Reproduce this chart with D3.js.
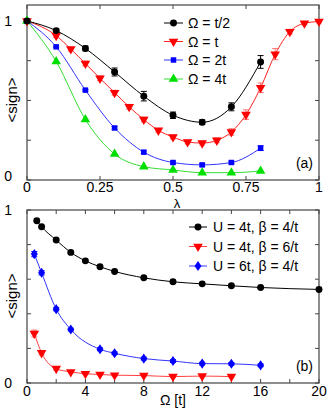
<!DOCTYPE html>
<html><head><meta charset="utf-8">
<script src="https://cdn.jsdelivr.net/npm/d3@7"></script>
<style>
html,body{margin:0;padding:0;background:#fff;}
svg{display:block;font-family:"Liberation Sans",Arial,Helvetica,sans-serif;}
</style></head>
<body>
<svg id="c" width="332" height="417"></svg>
<script>
// ---- Panel (a) data ----
const lambdaA = [0, 0.1, 0.2, 0.3, 0.4, 0.5, 0.6, 0.7, 0.8];
const lambdaRed = [0, 0.1, 0.15, 0.2, 0.25, 0.3, 0.35, 0.4, 0.45, 0.5, 0.55, 0.6, 0.65, 0.7, 0.75, 0.8, 0.85, 0.9, 0.95, 1.0];
const signHalf = [1, 0.939, 0.827, 0.679, 0.527, 0.407, 0.363, 0.46, 0.742];
const errHalf  = [0, 0.01, 0.015, 0.025, 0.03, 0.02, 0.015, 0.025, 0.04];
const signOne  = [1, 0.907, 0.823, 0.732, 0.639, 0.549, 0.46, 0.38, 0.312, 0.27, 0.239, 0.232, 0.249, 0.302, 0.411, 0.58, 0.791, 0.932, 0.985, 0.996];
const errOne   = [0, 0.012, 0.012, 0.015, 0.015, 0.015, 0.015, 0.015, 0.012, 0.012, 0.012, 0.012, 0.015, 0.02, 0.03, 0.03, 0.035, 0.015, 0.01, 0.008];
const signTwo  = [1, 0.837, 0.565, 0.327, 0.175, 0.11, 0.095, 0.11, 0.2];
const errTwo   = [0, 0.005, 0.005, 0.008, 0.008, 0.008, 0.008, 0.008, 0.015];
const signFour = [1, 0.745, 0.38, 0.163, 0.084, 0.063, 0.046, 0.046, 0.057];
const labelsA  = ["Ω = t/2", "Ω = t", "Ω = 2t", "Ω = 4t"];
const xTicksA  = [0, 0.25, 0.5, 0.75, 1];
const xTickLabelsA = ["0", "0.25", "0.5", "0.75", "1"];
const yTicksA  = [0, 0.25, 0.5, 0.75, 1];

// ---- Panel (b) data ----
const omegaBlack = [0.67, 1, 2, 3, 4, 5, 6, 8, 10, 12, 14, 16, 20];
const signU4b4   = [0.938, 0.903, 0.826, 0.755, 0.706, 0.672, 0.645, 0.608, 0.585, 0.573, 0.562, 0.552, 0.541];
const omegaRed   = [0.5, 1, 2, 3, 4, 5, 6, 8, 10, 12, 14];
const signU4b6   = [0.286, 0.174, 0.083, 0.064, 0.054, 0.049, 0.045, 0.043, 0.037, 0.04, 0.037];
const errU4b6    = [0.02, 0.012, 0.008, 0.005, 0.005, 0.005, 0.005, 0.005, 0.005, 0.005, 0.005];
const omegaBlue  = [0.5, 1, 2, 3, 5, 6, 8, 10, 12, 14, 16];
const signU6b4   = [0.745, 0.637, 0.427, 0.309, 0.195, 0.172, 0.141, 0.127, 0.112, 0.111, 0.102];
const errU6b4    = [0.015, 0.012, 0.01, 0.008, 0.008, 0.008, 0.008, 0.008, 0.008, 0.008, 0.008];
const labelsB    = ["U = 4t, β = 4/t", "U = 4t, β = 6/t", "U = 6t, β = 4/t"];
const xTicksB    = [0, 2, 4, 6, 8, 10, 12, 14, 16, 18, 20];
const xTickLabelsB = [0, 4, 8, 12, 16, 20];
const yTicksB    = [0, 0.2, 0.4, 0.6, 0.8, 1];

const svg = d3.select("#c");
const axisCol = "#444";
const FS = 14;

const downTri = {draw(ctx, size){ const s=Math.sqrt(size*4/Math.sqrt(3)); const h=s*Math.sqrt(3)/2; ctx.moveTo(-s/2,-h/3); ctx.lineTo(s/2,-h/3); ctx.lineTo(0,2*h/3); ctx.closePath(); }};
const upTri = {draw(ctx, size){ const s=Math.sqrt(size*4/Math.sqrt(3)); const h=s*Math.sqrt(3)/2; ctx.moveTo(-s/2,h/3); ctx.lineTo(s/2,h/3); ctx.lineTo(0,-2*h/3); ctx.closePath(); }};
const diamond = {draw(ctx, size){ const w=Math.sqrt(size)*0.55, h=Math.sqrt(size)*0.8; ctx.moveTo(0,-h); ctx.lineTo(w,0); ctx.lineTo(0,h); ctx.lineTo(-w,0); ctx.closePath(); }};

function frame(g, x, y, xt, yt){
  const [x0,x1] = x.range(), [y0,y1] = y.range();
  g.append("rect").attr("x",x0).attr("y",y1).attr("width",x1-x0).attr("height",y0-y1)
    .attr("fill","none").attr("stroke",axisCol).attr("stroke-width",1.2);
  const tl = 4;
  xt.forEach(v=>{
    const px = x(v);
    g.append("line").attr("x1",px).attr("x2",px).attr("y1",y0).attr("y2",y0-tl).attr("stroke",axisCol);
    g.append("line").attr("x1",px).attr("x2",px).attr("y1",y1).attr("y2",y1+tl).attr("stroke",axisCol);
  });
  yt.forEach(v=>{
    const py = y(v);
    g.append("line").attr("x1",x0).attr("x2",x0+tl).attr("y1",py).attr("y2",py).attr("stroke",axisCol);
    g.append("line").attr("x1",x1).attr("x2",x1-tl).attr("y1",py).attr("y2",py).attr("stroke",axisCol);
  });
}

function series(g, x, y, xs, ys, errs, color, errColor, symType, symSize, lineColor){
  const pts = xs.map((v,i)=>({x:v, y:ys[i], e: errs ? errs[i] : 0}));
  g.append("path").datum(pts)
    .attr("d", d3.line().x(d=>x(d.x)).y(d=>y(d.y)).curve(d3.curveMonotoneX))
    .attr("fill","none").attr("stroke", lineColor).attr("stroke-width",1);
  const eb = g.append("g").attr("stroke", errColor).attr("stroke-width",1);
  pts.filter(d=>d.e>0).forEach(d=>{
    const px=x(d.x), ya=y(d.y+d.e), yb=y(d.y-d.e);
    eb.append("line").attr("x1",px).attr("x2",px).attr("y1",ya).attr("y2",yb);
    eb.append("line").attr("x1",px-3).attr("x2",px+3).attr("y1",ya).attr("y2",ya);
    eb.append("line").attr("x1",px-3).attr("x2",px+3).attr("y1",yb).attr("y2",yb);
  });
  g.append("g").selectAll("path").data(pts).join("path")
    .attr("transform", d=>`translate(${x(d.x)},${y(d.y)})`)
    .attr("d", d3.symbol().type(symType).size(symSize))
    .attr("fill", color);
}

function legend(g, items, x0, x1, xm, xt, ys){
  items.forEach((it,i)=>{
    const yy = ys[i];
    g.append("line").attr("x1",x0).attr("x2",x1).attr("y1",yy).attr("y2",yy).attr("stroke",it.line).attr("stroke-width",1);
    g.append("path").attr("transform",`translate(${xm},${yy})`).attr("d", d3.symbol().type(it.sym).size(it.size)).attr("fill",it.color);
    g.append("text").attr("x",xt).attr("y",yy+5).attr("font-size",FS).attr("fill","#000").text(it.label);
  });
}

// ===== Panel (a) =====
const xA = d3.scaleLinear().domain([0,1]).range([27,319]);
const yA = d3.scaleLinear().domain([0,1.1]).range([180,5]);
const gA = svg.append("g");
frame(gA, xA, yA, xTicksA, yTicksA);
series(gA, xA, yA, lambdaA, signFour, null, "#00e000", "#00e000", upTri, 40, "#33dd33");
series(gA, xA, yA, lambdaA, signTwo, errTwo, "#0000ff", "#0000ff", d3.symbolSquare, 30, "#3333ff");
series(gA, xA, yA, lambdaRed, signOne, errOne, "#ff0000", "#ff7070", downTri, 40, "#ff2020");
series(gA, xA, yA, lambdaA, signHalf, errHalf, "#000", "#000", d3.symbolCircle, 38, "#000");
xTicksA.forEach((v,i)=>{
  gA.append("text").attr("x",xA(v)).attr("y",192).attr("text-anchor","middle").attr("font-size",FS).text(xTickLabelsA[i]);
});
gA.append("text").attr("x",12).attr("y",yA(0)+1).attr("text-anchor","end").attr("font-size",FS).text("0");
gA.append("text").attr("x",12).attr("y",yA(1)+5).attr("text-anchor","end").attr("font-size",FS).text("1");
gA.append("text").attr("x",177).attr("y",208).attr("text-anchor","middle").attr("font-size",13).text("λ");
gA.append("text").attr("transform","translate(17,100) rotate(-90)").attr("text-anchor","middle").attr("font-size",15).text("<sign>");
gA.append("text").attr("x",313).attr("y",168).attr("text-anchor","end").attr("font-size",FS).text("(a)");
legend(gA, [
  {label:labelsA[0], color:"#000", line:"#000", sym:d3.symbolCircle, size:38},
  {label:labelsA[1], color:"#ff0000", line:"#ff2020", sym:downTri, size:40},
  {label:labelsA[2], color:"#0000ff", line:"#3333ff", sym:d3.symbolSquare, size:30},
  {label:labelsA[3], color:"#00e000", line:"#33dd33", sym:upTri, size:40}
], 164, 183, 173.5, 188, [23, 41.5, 60, 79]);

// ===== Panel (b) =====
const xB = d3.scaleLinear().domain([0,20]).range([27,319]);
const yB = d3.scaleLinear().domain([0,1]).range([383,210]);
const gB = svg.append("g");
frame(gB, xB, yB, xTicksB, yTicksB);
series(gB, xB, yB, omegaRed, signU4b6, errU4b6, "#ff0000", "#ff7070", downTri, 40, "#ff4040");
series(gB, xB, yB, omegaBlue, signU6b4, errU6b4, "#0000ff", "#0000ff", diamond, 40, "#3333ff");
series(gB, xB, yB, omegaBlack, signU4b4, null, "#000", "#000", d3.symbolCircle, 38, "#000");
xTickLabelsB.forEach(v=>{
  gB.append("text").attr("x",xB(v)).attr("y",396).attr("text-anchor","middle").attr("font-size",FS).text(v);
});
gB.append("text").attr("x",12).attr("y",yB(0)+5).attr("text-anchor","end").attr("font-size",FS).text("0");
gB.append("text").attr("x",12).attr("y",yB(1)+5).attr("text-anchor","end").attr("font-size",FS).text("1");
gB.append("text").attr("x",173).attr("y",405).attr("text-anchor","middle").attr("font-size",FS).text("Ω [t]");
gB.append("text").attr("transform","translate(17,296) rotate(-90)").attr("text-anchor","middle").attr("font-size",15).text("<sign>");
gB.append("text").attr("x",313).attr("y",371).attr("text-anchor","end").attr("font-size",FS).text("(b)");
legend(gB, [
  {label:labelsB[0], color:"#000", line:"#000", sym:d3.symbolCircle, size:38},
  {label:labelsB[1], color:"#ff0000", line:"#ff4040", sym:downTri, size:40},
  {label:labelsB[2], color:"#0000ff", line:"#3333ff", sym:diamond, size:40}
], 189, 207, 198, 213, [227, 246.5, 266]);
</script>
</body></html>
